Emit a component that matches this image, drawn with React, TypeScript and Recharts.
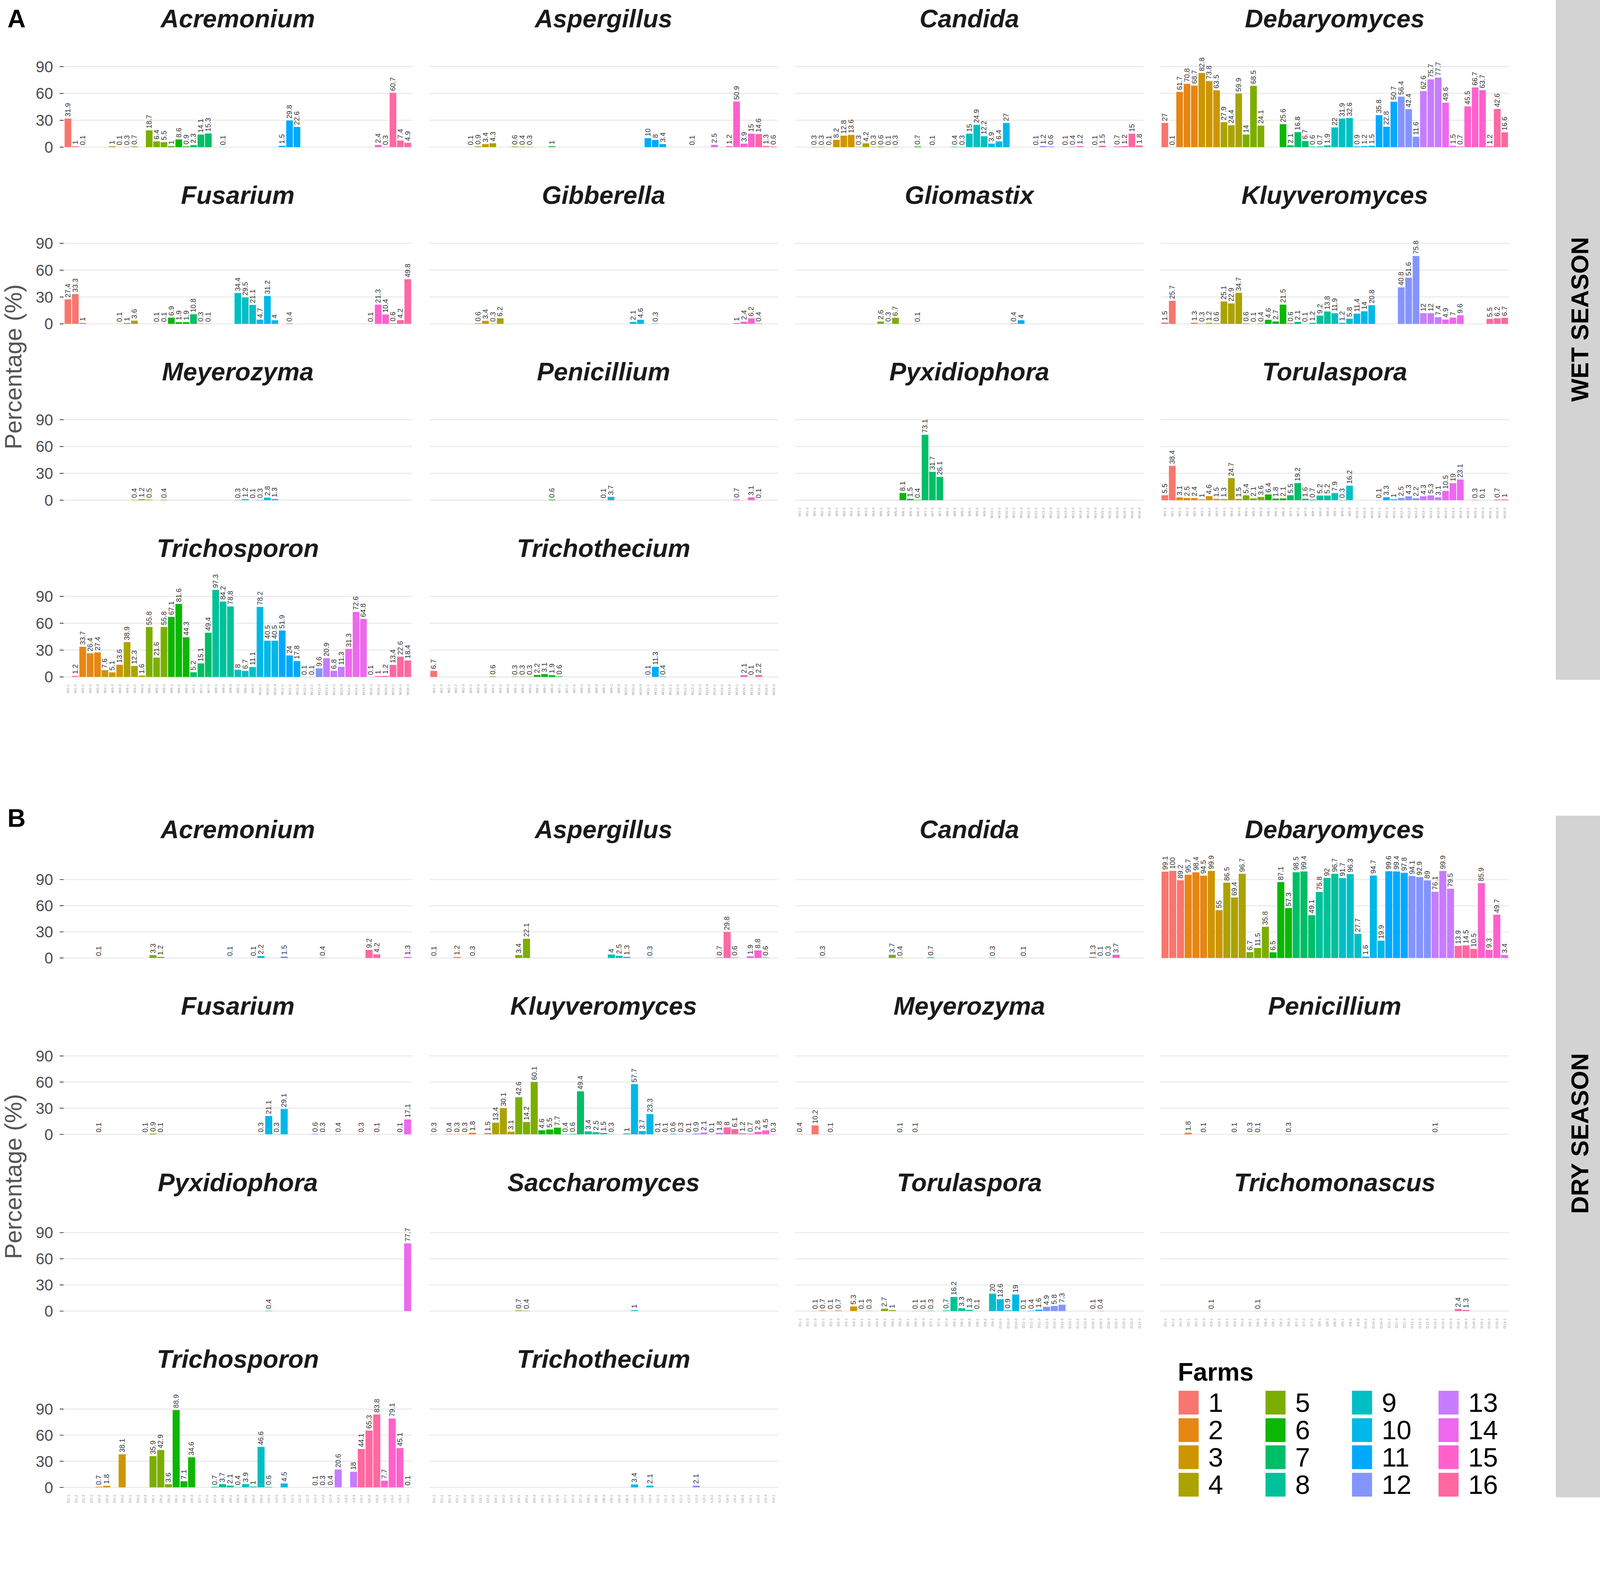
import { BarChart, Bar, XAxis, YAxis, CartesianGrid, Cell, LabelList } from 'recharts'

const _ = null
type V = number | null

const FONT = '"Liberation Sans", Arial, Helvetica, sans-serif'

// ggplot hue palette, 16 farms
const farmColors = ['#F8766D', '#E68613', '#CD9600', '#ABA300', '#7CAE00', '#0CB702', '#00BE67', '#00C19A', '#00BFC4', '#00B8E7', '#00A9FF', '#8494FF', '#C77CFF', '#ED68ED', '#FF61CC', '#FF68A1']
const farmLabels = ['1', '2', '3', '4', '5', '6', '7', '8', '9', '10', '11', '12', '13', '14', '15', '16']

// farm of every sample along the x axis
const wetSampleFarm = [1, 1, 2, 2, 2, 3, 3, 3, 4, 4, 4, 5, 5, 5, 6, 6, 6, 7, 7, 7, 8, 8, 8, 9, 9, 9, 10, 10, 10, 11, 11, 11, 12, 12, 12, 13, 13, 13, 14, 14, 14, 15, 15, 15, 16, 16, 16]
const drySampleFarm = [1, 1, 1, 2, 2, 2, 3, 3, 4, 4, 4, 5, 5, 5, 6, 6, 6, 7, 7, 7, 8, 8, 8, 9, 9, 9, 10, 10, 10, 11, 11, 11, 12, 12, 12, 13, 13, 13, 16, 16, 16, 15, 15, 15, 14]

const sampleNames = (prefix: string, farms: number[]) =>
  farms.map((f, i) => `${prefix}${f}-${farms.slice(0, i + 1).filter((x) => x === f).length}`)
const wetSamples = sampleNames('W', wetSampleFarm)
const drySamples = sampleNames('D', drySampleFarm)

// ---- wet season (47 samples) ----
const wetAcremonium: V[] = [31.9, 1, 0.1, _, _, _, 1, 0.1, 0.3, 0.7, _, 18.7, 6.4, 5.5, 1, 8.6, 0.9, 2.3, 14.1, 15.3, _, 0.1, _, _, _, _, _, _, _, 1.5, 29.8, 22.6, _, _, _, _, _, _, _, _, _, _, 2.4, 0.3, 60.7, 7.4, 4.9]
const wetAspergillus: V[] = [_, _, _, _, _, 0.1, 0.9, 3.4, 4.3, _, _, 0.6, 0.4, 0.3, _, _, 1, _, _, _, _, _, _, _, _, _, _, _, _, 10, 8, 3.4, _, _, _, 0.1, _, _, 2.5, _, 1.2, 50.9, 3.9, 15, 14.6, 1.3, 0.6]
const wetCandida: V[] = [_, _, 0.3, 0.3, 0.1, 8.2, 12.8, 13.6, 0.3, 4.2, 0.3, 0.6, 0.1, 0.3, _, _, 0.7, _, 0.1, _, _, 0.4, 0.3, 15, 24.9, 12.2, 3.9, 6.4, 27, _, _, _, 0.1, 1.2, 0.6, _, 0.1, 0.4, 1.2, _, 0.1, 1.5, _, 0.7, 1.2, 15, 1.8]
const wetDebaryomyces: V[] = [27, 0.1, 61.7, 70.8, 68.7, 82.8, 73.8, 63.5, 27.9, 24.4, 59.9, 14, 68.5, 24.1, _, _, 25.6, 2.1, 16.8, 6.7, 0.6, 0.7, 1.9, 22, 31.9, 32.6, 0.9, 1.2, 1.5, 35.8, 22.8, 50.7, 56.4, 42.4, 11.6, 62.6, 75.7, 77.7, 49.6, 1.5, 0.7, 45.5, 66.7, 63.7, 1.2, 42.6, 16.6]
const wetFusarium: V[] = [27.4, 33.3, 1, _, _, _, _, 0.1, 1, 3.6, _, _, 0.1, 0.1, 6.9, 1.9, 1.9, 10.8, 0.3, 0.1, _, _, _, 34.4, 29.5, 21.1, 4.7, 31.2, 4, _, 0.4, _, _, _, _, _, _, _, _, _, _, 0.1, 21.3, 10.4, 0.6, 4.2, 49.8]
const wetGibberella: V[] = [_, _, _, _, _, _, 0.6, 3.4, 0.3, 6.2, _, _, _, _, _, _, _, _, _, _, _, _, _, _, _, _, _, 2.1, 4.6, _, 0.3, _, _, _, _, _, _, _, _, _, _, 1, 2.4, 6.2, 0.4, _, _]
const wetGliomastix: V[] = [_, _, _, _, _, _, _, _, _, _, _, 2.6, 0.3, 6.7, _, _, 0.1, _, _, _, _, _, _, _, _, _, _, _, _, 0.4, 4, _, _, _, _, _, _, _, _, _, _, _, _, _, _, _, _]
const wetKluyveromyces: V[] = [1.5, 25.7, _, _, 1.3, 0.3, 1.2, 0.6, 25.1, 22.9, 34.7, 0.6, 0.1, 0.4, 4.6, 2.7, 21.5, 0.6, 2.1, 0.1, 1.2, 9.2, 13.8, 11.9, 1.2, 5.8, 11.4, 14, 20.8, _, _, _, 40.8, 51.6, 75.8, 12, 12, 7.4, 4.9, 7, 9.6, _, _, _, 5.5, 6.2, 6.7]
const wetMeyerozyma: V[] = [_, _, _, _, _, _, _, _, _, 0.4, 1.2, 0.5, _, 0.4, _, _, _, _, _, _, _, _, _, 0.3, 1.2, 0.1, 0.3, 2.8, 1.3, _, _, _, _, _, _, _, _, _, _, _, _, _, _, _, _, _, _]
const wetPenicillium: V[] = [_, _, _, _, _, _, _, _, _, _, _, _, _, _, _, _, 0.6, _, _, _, _, _, _, 0.1, 3.7, _, _, _, _, _, _, _, _, _, _, _, _, _, _, _, _, 0.7, _, 3.1, 0.1, _, _]
const wetPyxidiophora: V[] = [_, _, _, _, _, _, _, _, _, _, _, _, _, _, 8.1, 1.5, 0.4, 73.1, 31.7, 26.1, _, _, _, _, _, _, _, _, _, _, _, _, _, _, _, _, _, _, _, _, _, _, _, _, _, _, _]
const wetTorulaspora: V[] = [5.5, 38.4, 3.1, 2.5, 2.4, 1, 4.6, 1.5, 1.3, 24.7, 1.5, 5.4, 2.1, 3.6, 6.4, 1.8, 2.1, 5.5, 19.2, 1.6, 0.7, 5.2, 5.2, 7.9, 0.3, 16.2, _, _, _, 0.1, 3.3, 1, 2.5, 4.3, 2.2, 4.3, 5.3, 3.1, 10.5, 19, 23.1, _, 0.3, 0.1, _, 0.7, 1]
const wetTrichosporon: V[] = [_, 1.2, 33.7, 26.4, 27.4, 7.6, 5.1, 13.6, 38.9, 12.3, 1.6, 55.8, 21.6, 55.8, 67.1, 81.6, 44.3, 5.2, 15.1, 49.4, 97.3, 84.2, 78.8, 8, 6.7, 11.1, 78.2, 40.5, 40.5, 51.9, 24, 17.8, 0.1, 0.1, 9.6, 20.9, 6.8, 11.3, 31.3, 72.6, 64.8, 0.1, 1, 1.2, 13.4, 22.6, 18.4]
const wetTrichothecium: V[] = [6.7, _, _, _, _, _, _, _, 0.6, _, _, 0.3, 0.3, 0.3, 2.2, 3.1, 1.9, 0.6, _, _, _, _, _, _, _, _, _, _, _, 0.1, 11.3, 0.4, _, _, _, _, _, _, _, _, _, _, 2.1, 0.1, 2.2, _, _]

// ---- dry season (45 samples) ----
const dryAcremonium: V[] = [_, _, _, _, 0.1, _, _, _, _, _, _, 3.3, 1.2, _, _, _, _, _, _, _, _, 0.1, _, _, 0.1, 2.2, _, _, 1.5, _, _, _, _, 0.4, _, _, _, _, _, 9.2, 4.2, _, _, _, 1.3]
const dryAspergillus: V[] = [0.1, _, _, 1.2, _, 0.3, _, _, _, _, _, 3.4, 22.1, _, _, _, _, _, _, _, _, _, _, 4, 2.5, 1.3, _, _, 0.3, _, _, _, _, _, _, _, _, 0.7, 29.8, 0.6, _, 1.9, 8.8, 0.6, _]
const dryCandida: V[] = [_, _, _, 0.3, _, _, _, _, _, _, _, _, 3.7, 0.4, _, _, _, 0.7, _, _, _, _, _, _, _, 0.3, _, _, _, 0.1, _, _, _, _, _, _, _, _, 1.3, 0.1, 0.3, 3.7, _, _, _]
const dryDebaryomyces: V[] = [99.1, 100, 89.2, 95.7, 98.4, 94.5, 99.9, 55, 86.5, 69.4, 96.7, 6.7, 11.5, 35.8, 6.5, 87.1, 57.3, 98.5, 99.4, 49.1, 75.8, 92, 96.7, 91.7, 96.3, 27.7, 1.6, 94.7, 19.9, 99.6, 99.4, 97.8, 94.1, 92.9, 89, 76.1, 99.9, 79.5, 13.9, 14.5, 10.5, 85.9, 9.3, 49.7, 3.4]
const dryFusarium: V[] = [_, _, _, _, 0.1, _, _, _, _, _, 0.1, 0.9, 0.1, _, _, _, _, _, _, _, _, _, _, _, _, 0.3, 21.1, 0.3, 29.1, _, _, _, 0.6, 0.3, _, 0.4, _, _, 0.3, _, 0.1, _, _, 0.1, 17.1]
const dryKluyveromyces: V[] = [0.3, _, 0.4, 0.3, 0.3, 1.8, _, 1.5, 13.4, 30.1, 3.1, 42.6, 14.2, 60.1, 4.6, 5.5, 7.7, 0.4, 0.6, 49.4, 3.4, 2.5, 1.5, 0.3, _, 1, 57.7, 3.7, 23.3, 0.1, 0.1, 0.6, 0.3, 0.1, 0.9, 2.1, 0.1, 1.8, 8, 6.1, 1.2, 0.7, 2.8, 4.5, 0.3]
const dryMeyerozyma: V[] = [0.4, _, 10.2, _, 0.1, _, _, _, _, _, _, _, _, 0.1, _, 0.1, _, _, _, _, _, _, _, _, _, _, _, _, _, _, _, _, _, _, _, _, _, _, _, _, _, _, _, _, _]
const dryPenicillium: V[] = [_, _, _, 1.8, _, 0.1, _, _, _, 0.1, _, 0.3, 0.1, _, _, _, 0.3, _, _, _, _, _, _, _, _, _, _, _, _, _, _, _, _, _, _, 0.1, _, _, _, _, _, _, _, _, _]
const dryPyxidiophora: V[] = [_, _, _, _, _, _, _, _, _, _, _, _, _, _, _, _, _, _, _, _, _, _, _, _, _, _, 0.4, _, _, _, _, _, _, _, _, _, _, _, _, _, _, _, _, _, 77.7]
const drySaccharomyces: V[] = [_, _, _, _, _, _, _, _, _, _, _, 0.7, 0.4, _, _, _, _, _, _, _, _, _, _, _, _, _, 1, _, _, _, _, _, _, _, _, _, _, _, _, _, _, _, _, _, _]
const dryTorulaspora: V[] = [_, _, 0.1, 0.7, 0.1, 0.7, _, 5.3, 0.1, 0.3, _, 2.7, 1, _, _, 0.1, 0.1, 0.3, _, 0.7, 16.2, 3.3, 1.3, 0.1, _, 20, 13.6, 0.9, 19, 0.1, 0.4, 1.6, 4.9, 5.8, 7.3, _, _, _, 0.1, 0.4, _, _, _, _, _]
const dryTrichomonascus: V[] = [_, _, _, _, _, _, 0.1, _, _, _, _, _, 0.1, _, _, _, _, _, _, _, _, _, _, _, _, _, _, _, _, _, _, _, _, _, _, _, _, _, 2.4, 1.3, _, _, _, _, _]
const dryTrichosporon: V[] = [_, _, _, _, 0.7, 1.8, _, 38.1, _, _, _, 35.9, 42.9, 3.6, 88.9, 7.1, 34.6, _, _, 0.7, 3.7, 2.1, 0.4, 3.9, 1, 46.6, 0.6, _, 4.5, _, _, _, 0.1, 0.3, 0.4, 20.6, _, 18, 44.1, 65.3, 83.8, 7.7, 79.1, 45.1, 0.1]
const dryTrichothecium: V[] = [_, _, _, _, _, _, _, _, _, _, _, _, _, _, _, _, _, _, _, _, _, _, _, _, _, _, 3.4, _, 2.1, _, _, _, _, _, 2.1, _, _, _, _, _, _, _, _, _, _]

const wetGenera = ['Acremonium', 'Aspergillus', 'Candida', 'Debaryomyces', 'Fusarium', 'Gibberella', 'Gliomastix', 'Kluyveromyces', 'Meyerozyma', 'Penicillium', 'Pyxidiophora', 'Torulaspora', 'Trichosporon', 'Trichothecium']
const wetSeries = [wetAcremonium, wetAspergillus, wetCandida, wetDebaryomyces, wetFusarium, wetGibberella, wetGliomastix, wetKluyveromyces, wetMeyerozyma, wetPenicillium, wetPyxidiophora, wetTorulaspora, wetTrichosporon, wetTrichothecium]
const dryGenera = ['Acremonium', 'Aspergillus', 'Candida', 'Debaryomyces', 'Fusarium', 'Kluyveromyces', 'Meyerozyma', 'Penicillium', 'Pyxidiophora', 'Saccharomyces', 'Torulaspora', 'Trichomonascus', 'Trichosporon', 'Trichothecium']
const drySeries = [dryAcremonium, dryAspergillus, dryCandida, dryDebaryomyces, dryFusarium, dryKluyveromyces, dryMeyerozyma, dryPenicillium, dryPyxidiophora, drySaccharomyces, dryTorulaspora, dryTrichomonascus, dryTrichosporon, dryTrichothecium]

const yTicks = [0, 30, 60, 90]

// layout, in picture pixels; the whole sheet is shrunk to fit the page
const SHEET_SCALE = 0.9506
const PANEL_LEFT = [171, 1156, 2141, 3125]
const PANEL_W = 939
const PANEL_H = 258
const WET_ZERO = [396.5, 872, 1347.5, 1823]
const DRY_ZERO = [2580, 3055.5, 3531, 4006.5]
const TOP_PAD = 70
const BOTTOM_PAD = 30
const Y_W = 110
const X_H = 60

const renderValue = (p: any) => {
  const vb = p.viewBox || {}
  const x = vb.x ?? p.x
  const y = vb.y ?? p.y
  const w = vb.width ?? p.width
  if (p.value == null || x == null) return null
  const cx = x + w / 2
  const ty = y - 5
  return (
    <text x={cx} y={ty} transform={`rotate(-90 ${cx} ${ty})`} textAnchor="start" dominantBaseline="central" fontSize={19} fill="#333" fontFamily={FONT}>
      {p.value}
    </text>
  )
}

const renderSampleTick = (p: any) => {
  const { x, y, payload } = p
  return (
    <text x={x} y={y} transform={`rotate(-90 ${x} ${y})`} textAnchor="end" dominantBaseline="central" fontSize={10} fill="#999" fontFamily={FONT}>
      {payload.value}
    </text>
  )
}

type FacetProps = {
  title: string
  values: V[]
  samples: string[]
  sampleFarm: number[]
  col: number
  zero: number
  domain: [number, number]
  showX: boolean
}

function Facet({ title, values, samples, sampleFarm, col, zero, domain, showX }: FacetProps) {
  const showY = col === 0
  const data = samples.map((s, i) => ({ sample: s, value: values[i], farm: sampleFarm[i] }))
  const panelTop = zero - (domain[1] / (domain[1] - domain[0])) * PANEL_H
  const width = PANEL_W + (showY ? Y_W : 0)
  const height = TOP_PAD + PANEL_H + (showX ? X_H : 0) + BOTTOM_PAD
  return (
    <>
      <div
        style={{
          position: 'absolute', left: PANEL_LEFT[col], top: zero - 347 - 45, width: PANEL_W, height: 90,
          lineHeight: '90px', textAlign: 'center', fontFamily: FONT, fontWeight: 'bold', fontStyle: 'italic',
          fontSize: 68, color: '#1A1A1A',
        }}
      >
        {title}
      </div>
      <div style={{ position: 'absolute', left: PANEL_LEFT[col] - (showY ? Y_W : 0), top: panelTop - TOP_PAD }}>
        <BarChart width={width} height={height} data={data} margin={{ top: TOP_PAD, right: 0, bottom: BOTTOM_PAD, left: 0 }} barCategoryGap="5%">
          <CartesianGrid vertical={false} stroke="#EBEBEB" strokeWidth={3} horizontalValues={yTicks} />
          <XAxis dataKey="sample" type="category" interval={0} hide={!showX} height={X_H} tickLine={false} axisLine={false} tick={renderSampleTick} padding={{ left: 2, right: 2 }} />
          <YAxis
            type="number" domain={domain} allowDataOverflow ticks={yTicks} interval={0} hide={!showY} width={Y_W}
            axisLine={false} tickLine={{ stroke: '#333', strokeWidth: 2 }} tickSize={10} tickMargin={18}
            tick={{ fontSize: 42, fill: '#4D4D4D', fontFamily: FONT }}
          />
          <Bar dataKey="value" isAnimationActive={false}>
            {data.map((d, i) => (
              <Cell key={i} fill={farmColors[d.farm - 1]} />
            ))}
            <LabelList dataKey="value" content={renderValue} />
          </Bar>
        </BarChart>
      </div>
    </>
  )
}

function SeasonBlock({ genera, series, samples, sampleFarm, zeros, domain }: any) {
  const n = genera.length
  return (
    <>
      {genera.map((g: string, k: number) => (
        <Facet
          key={g}
          title={g}
          values={series[k]}
          samples={samples}
          sampleFarm={sampleFarm}
          col={k % 4}
          zero={zeros[Math.floor(k / 4)]}
          domain={domain}
          showX={k >= n - 4}
        />
      ))}
    </>
  )
}

const rotatedText = (x: number, y: number, text: string, style: any) => (
  <div
    style={{
      position: 'absolute', left: x, top: y, transform: 'translate(-50%, -50%) rotate(-90deg)',
      whiteSpace: 'nowrap', fontFamily: FONT, ...style,
    }}
  >
    {text}
  </div>
)

function FarmLegend() {
  const keyLeft = [3174, 3408, 3641, 3874]
  const rowY = [3778, 3851.5, 3925, 3998.5]
  return (
    <>
      <div style={{ position: 'absolute', left: 3172, top: 3695 - 40, height: 80, lineHeight: '80px', fontFamily: FONT, fontWeight: 'bold', fontSize: 68, color: '#000' }}>Farms</div>
      {farmLabels.map((f, i) => {
        const c = Math.floor(i / 4)
        const r = i % 4
        return (
          <div key={f}>
            <div style={{ position: 'absolute', left: keyLeft[c], top: rowY[r] - 32, width: 54, height: 64, background: farmColors[i] }} />
            <div style={{ position: 'absolute', left: keyLeft[c] + 80, top: rowY[r] - 40, height: 80, lineHeight: '80px', fontFamily: FONT, fontSize: 72, color: '#000' }}>{f}</div>
          </div>
        )
      })}
    </>
  )
}

export default function App() {
  return (
    <div
      style={{
        position: 'absolute', left: 0, top: 0, width: 4317, height: 4048, background: '#fff', overflow: 'hidden',
        transform: `scale(${SHEET_SCALE})`, transformOrigin: '0 0',
      }}
    >
      <div style={{ position: 'absolute', left: 20, top: 10, lineHeight: '80px', fontFamily: FONT, fontWeight: 'bold', fontSize: 68 }}>A</div>
      <div style={{ position: 'absolute', left: 20, top: 2163, lineHeight: '80px', fontFamily: FONT, fontWeight: 'bold', fontSize: 68 }}>B</div>

      {rotatedText(36, 988, 'Percentage (%)', { fontSize: 64, color: '#555' })}
      {rotatedText(36, 3169, 'Percentage (%)', { fontSize: 64, color: '#555' })}

      <div style={{ position: 'absolute', left: 4190, top: -110, width: 127, height: 1941, background: '#D3D3D3' }} />
      {rotatedText(4254, 860, 'WET SEASON', { fontSize: 66, fontWeight: 'bold', color: '#000' })}
      <div style={{ position: 'absolute', left: 4190, top: 2197, width: 127, height: 1836, background: '#D3D3D3' }} />
      {rotatedText(4254, 3053, 'DRY SEASON', { fontSize: 66, fontWeight: 'bold', color: '#000' })}

      <SeasonBlock genera={wetGenera} series={wetSeries} samples={wetSamples} sampleFarm={wetSampleFarm} zeros={WET_ZERO} domain={[-4.865, 102.165]} />
      <SeasonBlock genera={dryGenera} series={drySeries} samples={drySamples} sampleFarm={drySampleFarm} zeros={DRY_ZERO} domain={[-5, 105]} />

      <FarmLegend />
    </div>
  )
}
